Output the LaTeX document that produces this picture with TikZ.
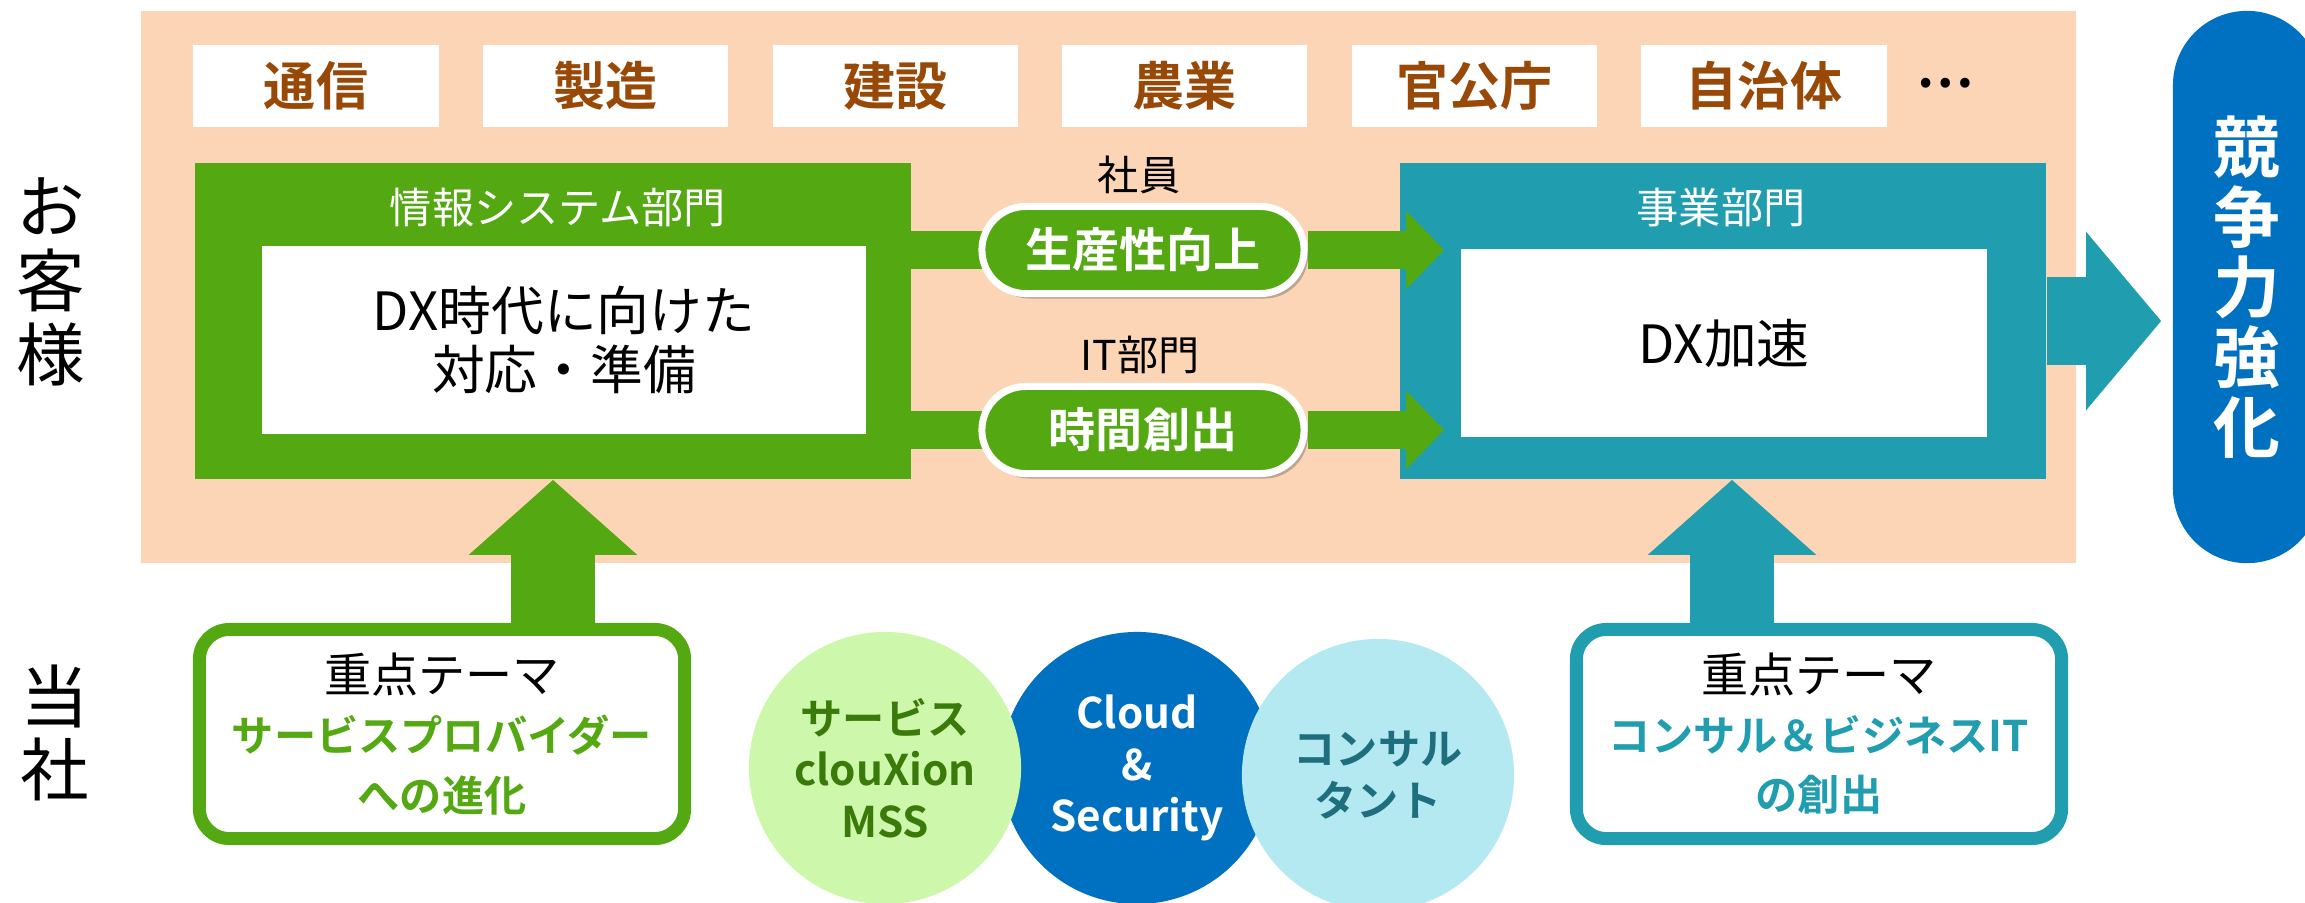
\documentclass[tikz,border=0pt]{standalone}
\usepackage{fontspec}
\setmainfont{Noto Sans CJK JP}[BoldFont={Noto Sans CJK JP Bold}]
\usepackage{tikz}
\usetikzlibrary{arrows.meta}
\usetikzlibrary{shadows}
\definecolor{peach}{RGB}{251,213,181}
\definecolor{leaf}{RGB}{84,168,17}
\definecolor{sea}{RGB}{32,157,175}
\definecolor{ocean}{RGB}{0,112,192}
\definecolor{rust}{RGB}{152,72,7}
\definecolor{mint}{RGB}{205,247,170}
\definecolor{sky}{RGB}{180,233,242}
\definecolor{moss}{RGB}{58,122,10}
\definecolor{deepsea}{RGB}{30,110,125}
\tikzset{industry/.style={fill=white, minimum width=2.45cm, minimum height=0.82cm, inner sep=0pt, text=rust, font=\bfseries\fontsize{14.8}{16}\selectfont},
dept/.style={minimum width=#1, minimum height=3.16cm, inner sep=0pt},
depttitle/.style={text=white, font=\fontsize{12}{14}\selectfont},
inner/.style={fill=white, minimum height=1.88cm, inner sep=0pt, align=center, font=\fontsize{15}{17}\selectfont},
pill/.style={fill=leaf, draw=white, line width=0.07cm, minimum width=3.22cm, minimum height=0.87cm, rounded corners=0.435cm, text=white, font=\bfseries\fontsize{13.4}{15}\selectfont, drop shadow={shadow xshift=0.04cm, shadow yshift=-0.05cm, opacity=0.35, fill=black!70}},
note/.style={font=\fontsize{11.7}{13}\selectfont},
side/.style={align=center, font=\fontsize{19.5}{21}\selectfont},
goal/.style={fill=ocean, minimum width=1.48cm, minimum height=5.52cm, rounded corners=0.74cm, text=white, align=center, font=\bfseries\fontsize{19}{19.9}\selectfont},
theme/.style={draw=#1, fill=white, line width=0.13cm, minimum width=4.85cm, minimum height=2.09cm, rounded corners=0.3cm, align=center, font=\fontsize{12}{16.8}\selectfont},
bubble/.style={circle, fill=#1, minimum size=2.72cm, inner sep=0pt, align=center, font=\bfseries\fontsize{12}{14.6}\selectfont},
%flat bars and block arrows
bar/.style={leaf, line width=0.38cm},
garrow/.style={leaf, line width=0.38cm, -{Triangle[length=0.38cm, width=0.76cm]}},
uparrow/.style={#1, line width=0.83cm, -{Triangle[length=0.75cm, width=1.64cm]}}}

\begin{document}
\begin{tikzpicture}[x=0.01cm, y=-0.01cm]
\useasboundingbox (0,0) rectangle (2305,902);
% customers
\fill[peach] (141,11) rectangle (2076,563);

%industries
\foreach \i/\name in {0/通信,1/製造,2/建設,3/農業,4/官公庁,5/自治体}
     \node[industry] (ind\i) at (316+289.6*\i,86) {\name};
\node[font=\bfseries\fontsize{14.8}{16}\selectfont] (more) at (1945,83) {…};

% information systems
\node[dept=7.15cm, fill=leaf] (infosys) at (553,321) {};
\node[depttitle] (infotitle) at (558,207) {情報システム部門};
\node[inner, minimum width=6.03cm] (prep) at (564,340) {DX時代に向けた\\対応・準備};

\coordinate (p1) at (1143,250);
\coordinate (p2) at (1143,430);
\draw[bar] (infosys.east |- p1) -- (p1);
\draw[bar] (infosys.east |- p2) -- (p2);
\node[pill] (pill1) at (p1) {生産性向上};
\node[pill] (pill2) at (p2) {時間創出};
\node[note] (staff) at (1139,175) {社員};
\node[note] (itdept) at (1140,355) {IT部門};

% business
\node[dept=6.46cm, fill=sea] (biz) at (1723,321) {};
\node[depttitle] (biztitle) at (1721,207) {事業部門};
\draw[garrow] (pill1.east) -- ([xshift=0.45cm]biz.west |- pill1);
\draw[garrow] (pill2.east) -- ([xshift=0.45cm]biz.west |- pill2);
\node[inner, minimum width=5.26cm] (speed) at (1724,343) {DX加速};

% competitiveness
\node[goal] (goal) at (2247,287) {競\\争\\力\\強\\化};
\draw[sea, line width=0.88cm, -{Triangle[length=0.75cm, width=1.74cm]}] (biz.east) -- ([xshift=-0.11cm]goal.west |- biz.east);

%labels
\node[side] (cust) at (51,282) {お\\客\\様};
\node[side] (us) at (55,733) {当\\社};

% our themes
\node[theme=leaf] (svc) at (442,734) {{\fontsize{13.4}{16.8}\selectfont 重点テーマ}\\{\bfseries\color{leaf}サービスプロバイダー}\\{\bfseries\color{leaf}への進化}};
\node[theme=sea] (bizth) at (1819,734) {{\fontsize{13.4}{16.8}\selectfont 重点テーマ}\\{\bfseries\color{sea}コンサル＆ビジネスIT}\\{\bfseries\color{sea}の創出}};
\draw[uparrow=leaf] (infosys.south |- svc.north) -- (infosys.south);
\draw[uparrow=sea] ([xshift=0.09cm]biz.south |- bizth.north) -- ([xshift=0.09cm]biz.south);

% offerings
\node[bubble=ocean, text=white] (cloud) at (1137,768) {Cloud\\\&\\Security};
\node[bubble=mint, text=moss] (mss) at (885,768) {サービス\\clouXion\\MSS};
\node[bubble=sky, text=deepsea] (consult) at (1378,775) {コンサル\\タント};

\end{tikzpicture}
\end{document}
